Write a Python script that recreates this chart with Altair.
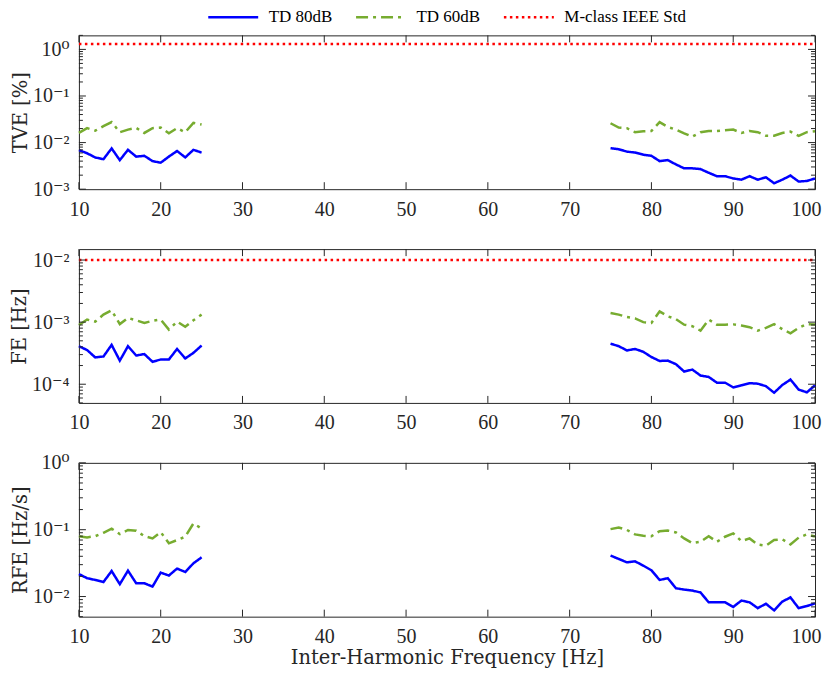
import altair as alt
import pandas as pd

# ---------------- data ----------------
freq_left = list(range(10, 26))
freq_right = list(range(75, 101))
limit_x = [10, 100]
x_ticks = [10, 20, 30, 40, 50, 60, 70, 80, 90, 100]

tve_80_left = [0.0069, 0.0059, 0.0048, 0.0044, 0.0075, 0.0042, 0.0070, 0.0050,
               0.0052, 0.0040, 0.0037, 0.0050, 0.0066, 0.0048, 0.0070, 0.0061]
tve_60_left = [0.0161, 0.0204, 0.0180, 0.0225, 0.0275, 0.0167, 0.0190, 0.0207,
               0.0161, 0.0204, 0.0210, 0.0158, 0.0204, 0.0167, 0.0265, 0.0244]
tve_80_right = [0.0076, 0.0072, 0.0064, 0.0061, 0.0055, 0.0052, 0.0040, 0.0042,
                0.0034, 0.0028, 0.0028, 0.0027, 0.00225, 0.0019, 0.0019, 0.0017,
                0.0016, 0.0019, 0.0016, 0.0018, 0.00134, 0.0016, 0.00196, 0.00146,
                0.0015, 0.0017]
tve_60_right = [0.026, 0.021, 0.0204, 0.0167, 0.0175, 0.0178, 0.0275, 0.0216,
                0.019, 0.0158, 0.0134, 0.0167, 0.0178, 0.0178, 0.0184, 0.019,
                0.0161, 0.0178, 0.0167, 0.014, 0.014, 0.0161, 0.0172, 0.014,
                0.0167, 0.0175]
tve_limit = [1.3, 1.3]

fe_80_left = [4.1e-4, 3.55e-4, 2.7e-4, 2.8e-4, 4.3e-4, 2.4e-4, 4.1e-4, 2.9e-4,
              3.06e-4, 2.3e-4, 2.5e-4, 2.5e-4, 3.7e-4, 2.6e-4, 3.2e-4, 4.2e-4]
fe_60_left = [9.0e-4, 1.1e-3, 1.02e-3, 1.32e-3, 1.55e-3, 9.3e-4, 1.17e-3, 1.07e-3,
              9.7e-4, 1.05e-3, 1.1e-3, 7.6e-4, 1.02e-3, 8.4e-4, 1.07e-3, 1.32e-3]
fe_80_right = [4.5e-4, 4.1e-4, 3.5e-4, 3.7e-4, 3.33e-4, 2.74e-4, 2.37e-4, 2.4e-4,
               2.1e-4, 1.6e-4, 1.72e-4, 1.38e-4, 1.31e-4, 1.06e-4, 1.06e-4, 8.9e-5,
               9.6e-5, 1.04e-4, 1.02e-4, 9.3e-5, 7.3e-5, 9.7e-5, 1.19e-4, 8.2e-5,
               7.4e-5, 9.6e-5]
fe_60_right = [1.4e-3, 1.32e-3, 1.21e-3, 1.15e-3, 1.0e-3, 9.7e-4, 1.49e-3, 1.24e-3,
               1.12e-3, 9.1e-4, 8.6e-4, 7.3e-4, 1.1e-3, 9.1e-4, 9.1e-4, 9.2e-4,
               8.8e-4, 8.3e-4, 7.3e-4, 8.1e-4, 9.3e-4, 7.7e-4, 6.6e-4, 8.1e-4,
               9.3e-4, 9.2e-4]
fe_limit = [0.01, 0.01]

rfe_80_left = [0.0217, 0.0188, 0.0177, 0.0165, 0.0241, 0.0153, 0.0244, 0.0158,
               0.0158, 0.0141, 0.0228, 0.0206, 0.0262, 0.0233, 0.0314, 0.0386]
rfe_60_left = [0.080, 0.0767, 0.080, 0.090, 0.1035, 0.086, 0.099, 0.0965,
               0.080, 0.074, 0.092, 0.0625, 0.070, 0.0785, 0.124, 0.104]
rfe_80_right = [0.041, 0.0365, 0.0325, 0.0336, 0.029, 0.0247, 0.0177, 0.0188,
                0.0133, 0.0127, 0.0123, 0.0115, 0.0082, 0.0082, 0.0082, 0.0070,
                0.0087, 0.0082, 0.0067, 0.0078, 0.0062, 0.0084, 0.0097, 0.0067,
                0.0072, 0.0079]
rfe_60_right = [0.102, 0.108, 0.099, 0.085, 0.081, 0.080, 0.095, 0.097,
                0.091, 0.074, 0.063, 0.066, 0.080, 0.066, 0.0785, 0.088,
                0.0676, 0.074, 0.060, 0.0577, 0.070, 0.072, 0.060, 0.076,
                0.085, 0.079]

SERIES = ["TD 80dB", "TD 60dB", "M-class IEEE Std"]
COLORS = ["#0000ff", "#77ac30", "#ff0000"]
DASHES = [[1, 0], [12, 5, 3, 5], [2.5, 3.5]]

# ---------------- styling ----------------
W, H = 737, 154
FONT = "Liberation Serif, DejaVu Serif, serif"
TFONT = "DejaVu Serif, serif"
AX = "#262626"
MAJ, MIN = 7, 4

LABEL_EXPR = ("'10' + (datum.value < 1 ? '\u207b' : '') + "
              "['\u2070','\u00b9','\u00b2','\u00b3','\u2074','\u2075']"
              "[abs(round(log(datum.value) / LN10))]")


def build_df(l80, r80, l60, r60, limit):
    rows = []
    parts = [(freq_left, l80, SERIES[0], "a"), (freq_right, r80, SERIES[0], "b"),
             (freq_left, l60, SERIES[1], "c"), (freq_right, r60, SERIES[1], "d")]
    if limit is not None:
        parts.append((limit_x, limit, SERIES[2], "e"))
    for xs, ys, s, seg in parts:
        for xv, yv in zip(xs, ys):
            rows.append({"x": xv, "y": yv, "series": s, "seg": seg})
    return pd.DataFrame(rows)


def minor_ticks(domain):
    vals = []
    for e in range(-6, 2):
        for k in range(2, 10):
            v = k * 10.0 ** e
            if domain[0] <= v <= domain[1]:
                vals.append(v)
    return vals


legend = alt.Legend(orient="none", legendX=146, legendY=-27, direction="horizontal",
                    title=None, symbolType="M-5,0L5,0", symbolSize=100,
                    symbolStrokeWidth=2.5, labelFont=FONT, labelFontSize=17,
                    labelColor="#000000", labelOffset=27, columnPadding=18)


def panel(df, domain, y_major, ytitle, xtitle):
    xscale = alt.Scale(domain=[10, 100], nice=False, zero=False)
    yscale = alt.Scale(type="log", domain=domain, nice=False)
    xaxis = alt.Axis(
        values=x_ticks, title=xtitle if xtitle else None,
        labelAlign={"condition": {"test": "datum.value == 100", "value": "right"},
                    "value": "center"},
        labelOffset={"condition": {"test": "datum.value == 100", "value": 6},
                     "value": 0},
    )
    yaxis = alt.Axis(values=y_major, labelExpr=LABEL_EXPR, title=ytitle)
    lines = alt.Chart(df).mark_line(strokeWidth=2.5, strokeCap="butt").encode(
        x=alt.X("x:Q", scale=xscale, axis=xaxis),
        y=alt.Y("y:Q", scale=yscale, axis=yaxis),
        color=alt.Color("series:N", scale=alt.Scale(domain=SERIES, range=COLORS),
                        legend=legend),
        strokeDash=alt.StrokeDash("series:N", scale=alt.Scale(domain=SERIES, range=DASHES),
                                  legend=legend),
        detail="seg:N",
    )
    xt = pd.DataFrame({"x": x_ticks})
    ymaj = pd.DataFrame({"y": y_major})
    ymin = pd.DataFrame({"y": minor_ticks(domain)})
    xbase = alt.Chart(xt).mark_rule(color=AX, strokeWidth=1)
    xb = xbase.encode(x=alt.X("x:Q", scale=xscale, axis=xaxis),
                      y=alt.value(H), y2=alt.value(H - MAJ))
    xtp = xbase.encode(x=alt.X("x:Q", scale=xscale, axis=xaxis),
                       y=alt.value(0), y2=alt.value(MAJ))
    layers = [lines, xb, xtp]
    for d, ln in [(ymaj, MAJ), (ymin, MIN)]:
        base = alt.Chart(d).mark_rule(color=AX, strokeWidth=1)
        layers.append(base.encode(y=alt.Y("y:Q", scale=yscale, axis=yaxis),
                                  x=alt.value(0), x2=alt.value(ln)))
        layers.append(base.encode(y=alt.Y("y:Q", scale=yscale, axis=yaxis),
                                  x=alt.value(W), x2=alt.value(W - ln)))
    return alt.layer(*layers).properties(width=W, height=H)


p1 = panel(build_df(tve_80_left, tve_80_right, tve_60_left, tve_60_right, tve_limit),
           [1e-3, 2], [1e-3, 1e-2, 1e-1, 1], "TVE [%]", None)
p2 = panel(build_df(fe_80_left, fe_80_right, fe_60_left, fe_60_right, fe_limit),
           [5e-5, 1.5e-2], [1e-4, 1e-3, 1e-2], "FE [Hz]", None)
p3 = panel(build_df(rfe_80_left, rfe_80_right, rfe_60_left, rfe_60_right, None),
           [5e-3, 1], [1e-2, 1e-1, 1], "RFE [Hz/s]", "Inter-Harmonic Frequency [Hz]")

chart = (
    alt.vconcat(p1, p2, p3, spacing=60, bounds="flush")
    .resolve_scale(x="independent", y="independent", color="shared", strokeDash="shared")
    .properties(padding={"left": 0, "top": 0, "right": 0, "bottom": 0})
    .configure_view(stroke=AX, strokeWidth=1)
    .configure_axis(domain=False, ticks=False, grid=False, labelFont=FONT,
                    labelFontSize=20, labelColor=AX, titleFont=TFONT, titleFontSize=19.5,
                    titleFontWeight="normal", titleColor=AX)
    .configure_axisX(labelPadding=10, titlePadding=2)
    .configure_axisY(labelPadding=10, titlePadding=2)
)

chart.save("out.html", embed_options={"renderer": "svg", "actions": False})
